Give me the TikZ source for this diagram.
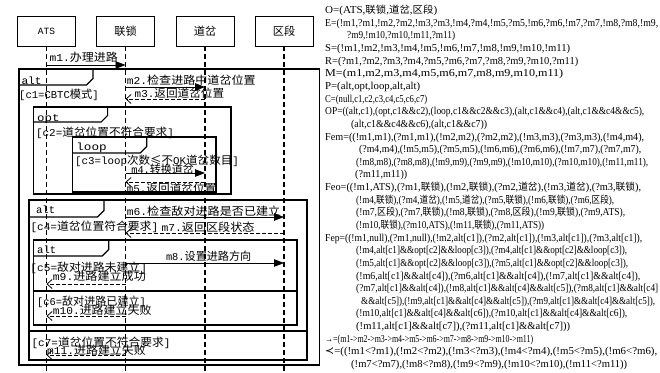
\documentclass[tikz,border=0pt]{standalone}
\usepackage{fontspec}
\usepackage{graphicx}
\setmainfont{Liberation Serif}
\newfontfamily\zhf{Noto Sans CJK SC}
\newfontfamily\mnf{Liberation Mono}
\newfontfamily\djf{DejaVu Sans}
\newcommand\zh[1]{{\zhf\fontsize{10}{12}\selectfont #1}}
\newcommand\zl[1]{{\zhf\fontsize{11.2}{12}\selectfont #1}}
\usetikzlibrary{arrows.meta}
\newcommand\rl[5]{\node[rtx] (#1) at (#2,{13.6+(#3-1)*12.64}) {\resizebox{#4pt}{\height}{#5}};}
\newcommand\lt[5]{\node[ltx] (#1) at (#2,{#3+4}) {\resizebox{#4pt}{\height}{#5}};}
\newcommand\tabshape[4]{\draw[frm] (#1,#4) -- ({#3-6.5},#4) -- (#3,{#4-6.5}) -- (#3,#2);}
\begin{document}
\begin{tikzpicture}[x=1pt,y=-1pt,
 objbox/.style={draw,line width=0.8pt,minimum width=58pt,minimum height=30pt,inner sep=0pt,font=\mnf\fontsize{9.5}{11}\selectfont},
 life/.style={line width=1.2pt,dash pattern=on 5pt off 3pt},
 sync/.style={line width=0.8pt,-{Triangle[length=10pt,width=7.5pt]}},
 ret/.style={line width=0.8pt,dash pattern=on 4pt off 2pt,-{Straight Barb[length=5pt,width=9pt]}},
 frm/.style={line width=1.2pt},
 mainfrm/.style={line width=1.6pt},
 ltx/.style={anchor=base west,inner sep=0pt,font=\mnf\fontsize{10.5}{12}\selectfont},
 rtx/.style={anchor=base west,inner sep=0pt,font=\fontsize{10.6}{12}\selectfont}]
\useasboundingbox (0,0) rectangle (660,372);
\fill[white] (0,0) rectangle (660,372);

% lifeline heads
\node[objbox] (ats) at (46.5,31) {ATS};
\node[objbox] (lian) at (125.5,31) {\zl{联锁}};
\node[objbox] (dao) at (205,31) {\zl{道岔}};
\node[objbox] (qu) at (284,31) {\zl{区段}};
\coordinate (atsE) at (46.5,372);
\coordinate (lianE) at (125.5,372);
\coordinate (daoE) at (205,372);
\coordinate (quE) at (284,372);
\draw[life] (ats.south) -- (atsE);
\draw[life] (lian.south) -- (lianE);
\draw[life] (dao.south) -- (daoE);
\draw[life] (qu.south) -- (quE);

% frames
\draw[mainfrm] (19,69) rectangle (319.5,365);
\tabshape{19}{69}{93}{85}
\draw[frm] (33.6,107) rectangle (231,194);
\tabshape{33.6}{107}{107.6}{122}
\draw[frm] (72.8,137) rectangle (216,192);
\tabshape{72.8}{137}{146.8}{153}
\draw[frm] (29,200) rectangle (307,360);
\tabshape{29}{200}{104}{217}
\draw[frm] (33.6,240) rectangle (297,325);
\tabshape{33.6}{240}{108.7}{256}
\draw[frm] (33.6,291) -- (297,291);
\draw[frm] (29,331) -- (307,331);

% messages
\coordinate (m1a) at (46.5,65);   \coordinate (m1b) at (125.5,65);
\coordinate (m2a) at (125.5,87);  \coordinate (m2b) at (205,87);
\coordinate (m3a) at (205,99);    \coordinate (m3b) at (125.5,99);
\coordinate (m4a) at (125.5,173); \coordinate (m4b) at (205,173);
\coordinate (m5a) at (205,182);   \coordinate (m5b) at (125.5,182);
\coordinate (m6a) at (125.5,217); \coordinate (m6b) at (284,217);
\coordinate (m7a) at (284,233);   \coordinate (m7b) at (125.5,233);
\coordinate (m8a) at (125.5,263); \coordinate (m8b) at (284,263);
\coordinate (m9a) at (125.5,284); \coordinate (m9b) at (46.5,284);
\coordinate (m10a) at (125.5,316); \coordinate (m10b) at (46.5,316);
\coordinate (m11a) at (125.5,355); \coordinate (m11b) at (46.5,355);
\draw[sync] (m1a) -- (m1b);
\draw[sync] (m2a) -- (m2b);
\draw[ret] (m3a) -- (m3b);
\draw[sync] (m4a) -- (m4b);
\draw[ret] (m5a) -- (m5b);
\draw[sync] (m6a) -- (m6b);
\draw[ret] (m7a) -- (m7b);
\draw[sync] (m8a) -- (m8b);
\draw[ret] (m9a) -- (m9b);
\draw[ret] (m10a) -- (m10b);
\draw[ret] (m11a) -- (m11b);

% left texts
\lt{t1}{49.3}{57}{68.3}{m1.\zl{办理进路}}
\lt{talt1}{21.3}{80}{20.2}{alt}
\lt{t2}{126.6}{80}{128.9}{m2.\zl{检查进路中道岔位置}}
\lt{tc1}{19}{94}{79.6}{[c1=CBTC\zl{模式}]}
\lt{t3}{134.5}{93}{89.6}{m3.\zl{返回道岔位置}}
\lt{topt}{37}{117}{22.4}{opt}
\lt{tc2}{35.9}{132}{137.8}{[c2=\zl{道岔位置不符合要求}]}
\lt{tloop}{76.2}{146}{30.3}{loop}
\lt{tc3}{75}{160}{163.6}{[c3=loop\zl{次数≤不}OK\zl{道岔数目}]}
\lt{t4}{131.1}{169}{62.7}{m4.\zl{转换道岔}}
\lt{t5}{126.6}{188}{89.6}{m5.\zl{返回道岔位置}}
\lt{talt2}{35.9}{209}{19}{alt}
\lt{t6}{126.6}{211}{153.5}{m6.\zl{检查敌对进路是否已建立}}
\lt{tc4}{30.3}{226}{127.7}{[c4=\zl{道岔位置符合要求}]}
\lt{t7}{161.3}{227}{93}{m7.\zl{返回区段状态}}
\lt{talt3}{37}{249}{19}{alt}
\lt{t8}{165.8}{256}{85.2}{m8.\zl{设置进路方向}}
\lt{tc5}{30.3}{267}{116.5}{[c5=\zl{敌对进路未建立}]}
\lt{t9}{52.7}{276}{93}{m9.\zl{进路建立成功}}
\lt{tc6}{37}{301}{108.7}{[c6=\zl{敌对进路已建立}]}
\lt{t10}{52.7}{310}{98.6}{m10.\zl{进路建立失败}}
\lt{tc7}{31.4}{342}{138.9}{[c7=\zl{道岔位置不符合要求}]}
\lt{t11}{47}{350}{98.6}{m11.\zl{进路建立失败}}

% right texts
\rl{r1}{325}{1}{112}{O=(ATS,\zh{联锁},\zh{道岔},\zh{区段})}
\rl{r2}{325}{2}{333}{E=(!m1,?m1,!m2,?m2,!m3,?m3,!m4,?m4,!m5,?m5,!m6,?m6,!m7,?m7,!m8,?m8,!m9,}
\rl{r3}{347}{3}{108}{?m9,!m10,?m10,!m11,?m11)}
\rl{r4}{325}{4}{245}{S=(!m1,!m2,!m3,!m4,!m5,!m6,!m7,!m8,!m9,!m10,!m11)}
\rl{r5}{325}{5}{253}{R=(?m1,?m2,?m3,?m4,?m5,?m6,?m7,?m8,?m9,?m10,?m11)}
\rl{r6}{325}{6}{238}{M=(m1,m2,m3,m4,m5,m6,m7,m8,m9,m10,m11)}
\rl{r7}{325}{7}{95}{P=(alt,opt,loop,alt,alt)}
\rl{r8}{325}{8}{102}{C=(null,c1,c2,c3,c4,c5,c6,c7)}
\rl{r9}{325}{9}{319}{OP=((alt,c1),(opt,c1\&\&c2),(loop,c1\&\&c2\&\&c3),(alt,c1\&\&c4),(alt,c1\&\&c4\&\&c5),}
\rl{r10}{351}{10}{136}{(alt,c1\&\&c4\&\&c6),(alt,c1\&\&c7))}
\rl{r11}{325}{11}{319}{Fem=((!m1,m1),(?m1,m1),(!m2,m2),(?m2,m2),(!m3,m3),(?m3,m3),(!m4,m4),}
\rl{r12}{359}{12}{282}{(?m4,m4),(!m5,m5),(?m5,m5),(!m6,m6),(?m6,m6),(!m7,m7),(?m7,m7),}
\rl{r13}{356}{13}{292}{(!m8,m8),(?m8,m8),(!m9,m9),(?m9,m9),(!m10,m10),(?m10,m10),(!m11,m11),}
\rl{r14}{355}{14}{52}{(?m11,m11))}
\rl{r15}{325}{15}{316}{Feo=((!m1,ATS),(?m1,\zh{联锁}),(!m2,\zh{联锁}),(?m2,\zh{道岔}),(!m3,\zh{道岔}),(?m3,\zh{联锁}),}
\rl{r16}{356}{16}{258}{(!m4,\zh{联锁}),(?m4,\zh{道岔}),(!m5,\zh{道岔}),(?m5,\zh{联锁}),(!m6,\zh{联锁}),(?m6,\zh{区段}),}
\rl{r17}{356}{17}{269}{(!m7,\zh{区段}),(?m7,\zh{联锁}),(!m8,\zh{联锁}),(?m8,\zh{区段}),(!m9,\zh{联锁}),(?m9,ATS),}
\rl{r18}{356}{18}{188}{(!m10,\zh{联锁}),(?m10,ATS),(!m11,\zh{联锁}),(?m11,ATS))}
\rl{r19}{325}{19}{317}{Fep=((!m1,null),(?m1,null),(!m2,alt[c1]),(?m2,alt[c1]),(!m3,alt[c1]),(?m3,alt[c1]),}
\rl{r20}{356}{20}{271}{(!m4,alt[c1]\&\&opt[c2]\&\&loop[c3]),(?m4,alt[c1]\&\&opt[c2]\&\&loop[c3]),}
\rl{r21}{356}{21}{272}{(!m5,alt[c1]\&\&opt[c2]\&\&loop[c3]),(?m5,alt[c1]\&\&opt[c2]\&\&loop[c3]),}
\rl{r22}{356}{22}{284}{(!m6,alt[c1]\&\&alt[c4]),(?m6,alt[c1]\&\&alt[c4]),(!m7,alt[c1]\&\&alt[c4]),}
\rl{r23}{356}{23}{302}{(?m7,alt[c1]\&\&alt[c4]),(!m8,alt[c1]\&\&alt[c4]\&\&alt[c5]),(?m8,alt[c1]\&\&alt[c4]}
\rl{r24}{361}{24}{294}{\&\&alt[c5]),(!m9,alt[c1]\&\&alt[c4]\&\&alt[c5]),(?m9,alt[c1]\&\&alt[c4]\&\&alt[c5]),}
\rl{r25}{356}{25}{271}{(!m10,alt[c1]\&\&alt[c4]\&\&alt[c6]),(?m10,alt[c1]\&\&alt[c4]\&\&alt[c6]),}
\rl{r26}{356}{26}{214}{(!m11,alt[c1]\&\&alt[c7]),(?m11,alt[c1]\&\&alt[c7]))}
\rl{r27}{325}{27}{208}{→=(m1->m2->m3->m4->m5->m6->m7->m8->m9->m10->m11)}
\rl{r28}{325}{28}{332}{{\djf ≺}=((!m1<?m1),(!m2<?m2),(!m3<?m3),(!m4<?m4),(!m5<?m5),(!m6<?m6),}
\rl{r29}{351}{29}{276}{(!m7<?m7),(!m8<?m8),(!m9<?m9),(!m10<?m10),(!m11<?m11))}
\end{tikzpicture}
\end{document}
